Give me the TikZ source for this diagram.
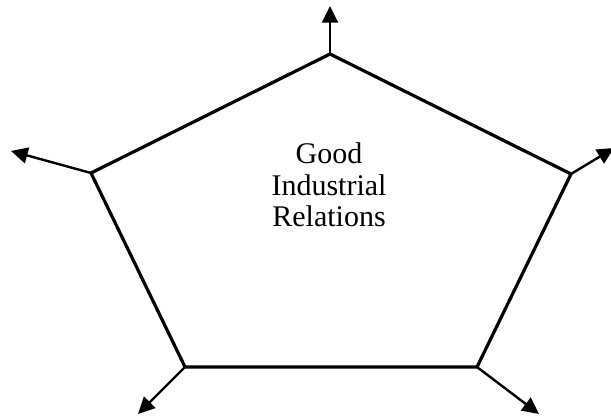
\documentclass[tikz,border=0pt]{standalone}
\usepackage{fontspec}
\setmainfont{Liberation Serif}
\usetikzlibrary{arrows.meta}

\begin{document}
\begin{tikzpicture}[x=0.75pt, y=-0.75pt,
    side/.style={line width=2.4pt, line join=miter},
    outarrow/.style={line width=1.8pt, -{Triangle[length=12.5pt, width=12pt]}}]
  \useasboundingbox (0,0) rectangle (611,416);
  % corners of the pentagon
  \coordinate (top) at (330,54);
  \coordinate (right) at (571,174);
  \coordinate (botright) at (477,367);
  \coordinate (botleft) at (185,367);
  \coordinate (left) at (91,173);
  % free ends of the arrows
  \coordinate (topend) at (330,6);
  \coordinate (rightend) at (614,148);
  \coordinate (botrightend) at (539,414);
  \coordinate (botleftend) at (138,414);
  \coordinate (leftend) at (11,151);
  \draw[side] (top) -- (right) -- (botright) -- (botleft) -- (left) -- cycle;
  \foreach \c in {top,right,botright,botleft,left}
    \draw[outarrow] (\c) -- (\c end);
  \node[align=center, font=\fontsize{22.5}{23.6}\selectfont] (goodir) at (329,185)
    {Good\\Industrial\\Relations};
\end{tikzpicture}
\end{document}
